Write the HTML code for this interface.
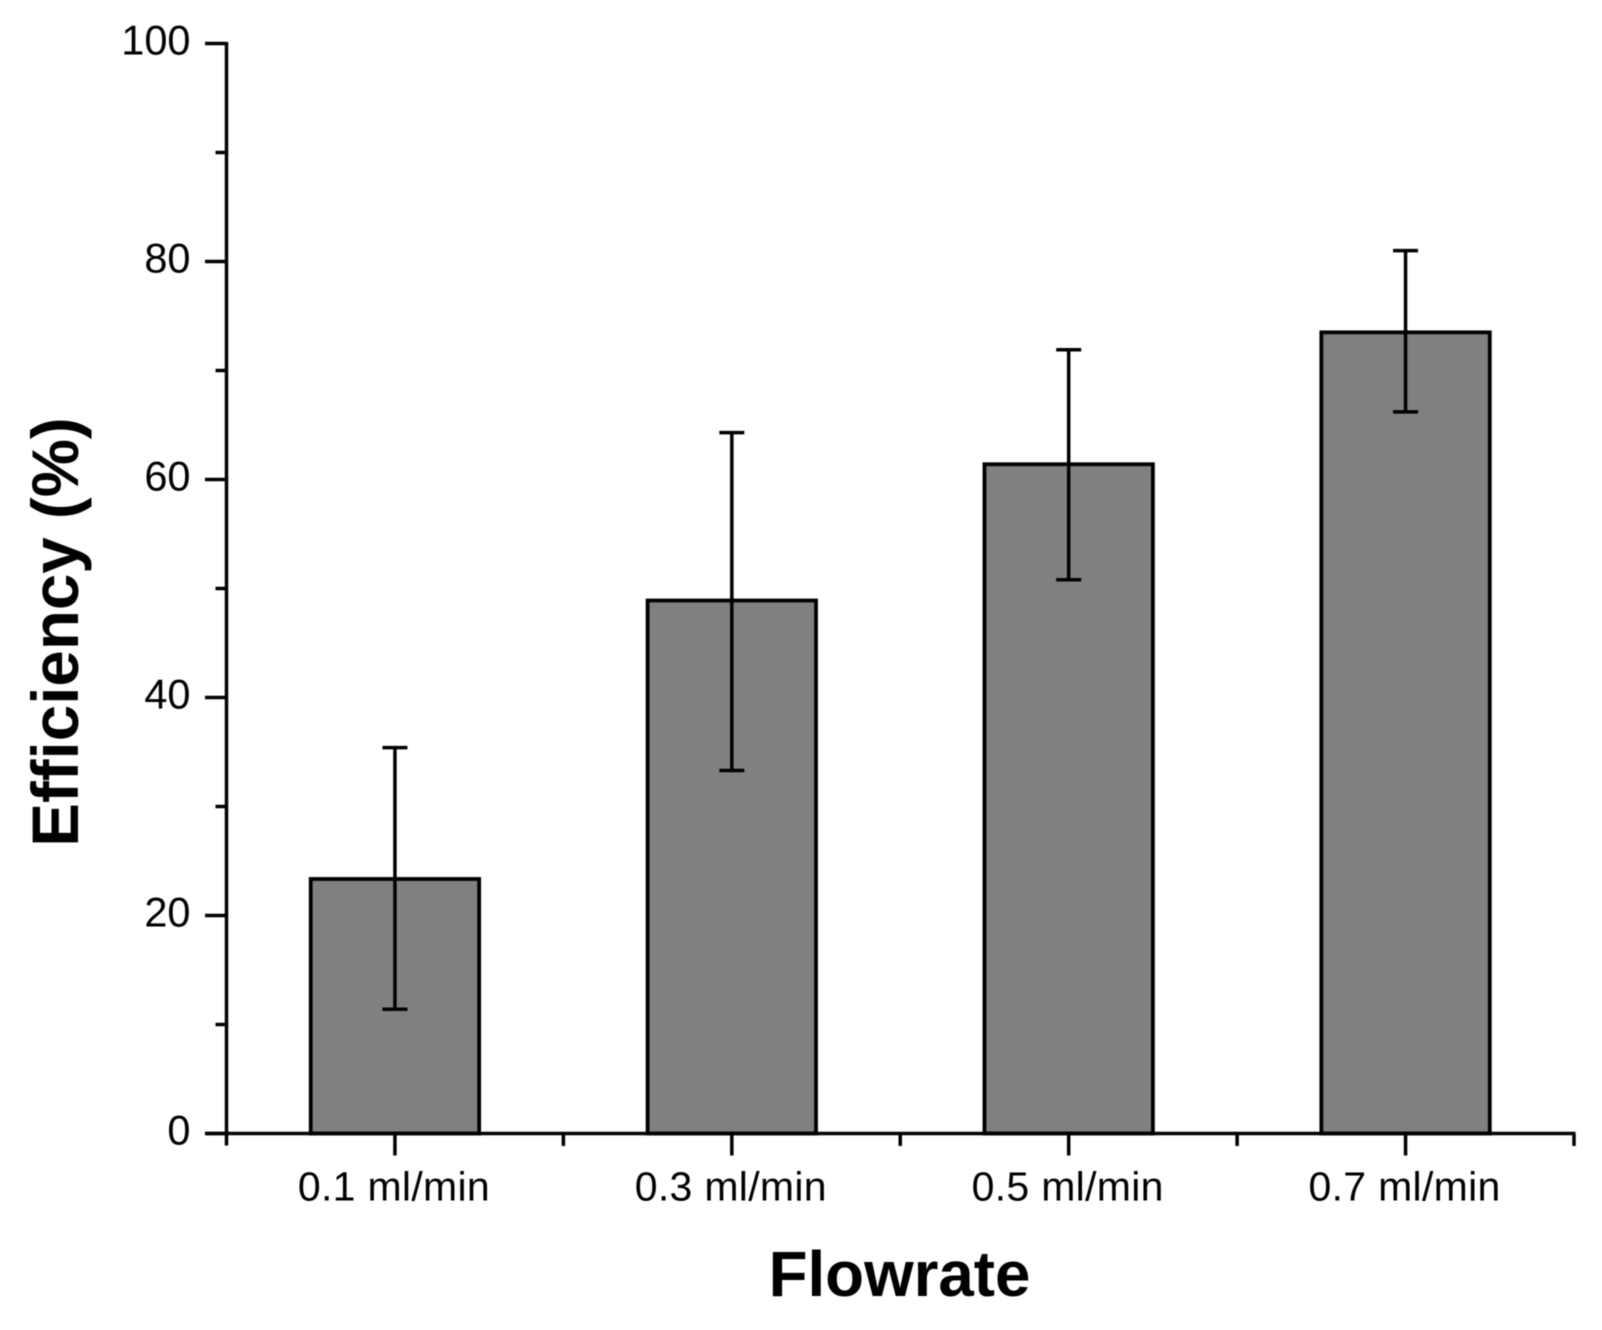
<!DOCTYPE html>
<html lang="en">
<head>
<meta charset="utf-8">
<title>Efficiency vs Flowrate</title>
<style>
html,body{margin:0;padding:0;background:#fff;}
body{width:1602px;height:1330px;overflow:hidden;}
svg{display:block;font-family:"Liberation Sans",Arial,sans-serif;filter:blur(0.4px);}
</style>
</head>
<body>
<svg id="chart" xmlns="http://www.w3.org/2000/svg" width="1602" height="1330" viewBox="0 0 1602 1330"></svg>
<script>
// Chart data
const categories = ['0.1 ml/min', '0.3 ml/min', '0.5 ml/min', '0.7 ml/min'];
const efficiency = [23.35, 48.9, 61.4, 73.5];
const errorUpper = [35.4, 64.3, 71.9, 81.0];
const errorLower = [11.4, 33.3, 50.8, 66.2];
const yMajorTicks = [0, 20, 40, 60, 80, 100];
const yMinorTicks = [10, 30, 50, 70, 90];

const NS = 'http://www.w3.org/2000/svg';
const svg = document.getElementById('chart');
const plot = { left: 226.5, right: 1574, top: 43.5, bottom: 1133.5 };
const yMin = 0, yMax = 100;
const lineWidth = 3.5;

function yScale(v) {
  return plot.bottom - (v - yMin) / (yMax - yMin) * (plot.bottom - plot.top);
}
function bandWidth() {
  return (plot.right - plot.left) / categories.length;
}
function xScale(i) {
  return plot.left + bandWidth() * (i + 0.5);
}
function make(tag, attrs) {
  const el = document.createElementNS(NS, tag);
  for (const k in attrs) el.setAttribute(k, attrs[k]);
  return el;
}
function line(x1, y1, x2, y2, w) {
  return make('line', { x1: x1, y1: y1, x2: x2, y2: y2, stroke: '#000', 'stroke-width': w });
}

// Bars
categories.forEach(function (c, i) {
  const w = bandWidth() / 2;
  const y = yScale(efficiency[i]);
  const bar = make('rect', { x: xScale(i) - w / 2, y: y, width: w, height: plot.bottom - y, fill: '#808080', stroke: '#000', 'stroke-width': 3.8 });
  
  
  svg.appendChild(bar);
});

// Error bars
categories.forEach(function (c, i) {
  const x = xScale(i);
  const g = make('g', {});
  
  
  g.appendChild(line(x, yScale(errorUpper[i]), x, yScale(errorLower[i]), lineWidth));
  g.appendChild(line(x - 12.5, yScale(errorUpper[i]), x + 12.5, yScale(errorUpper[i]), lineWidth));
  g.appendChild(line(x - 12.5, yScale(errorLower[i]), x + 12.5, yScale(errorLower[i]), lineWidth));
  svg.appendChild(g);
});

// Y axis
const yAxis = make('g', {});


yAxis.appendChild(line(plot.left, plot.top - 1.5, plot.left, plot.bottom + 12, lineWidth));
yMajorTicks.forEach(function (t) {
  const y = yScale(t);
  const tick = line(205, y, plot.left, y, lineWidth);
  
  
  yAxis.appendChild(tick);
  const label = make('text', { x: 190.5, y: y + 11, 'text-anchor': 'end', 'font-size': 41.5, fill: '#000' });
  
  
  label.textContent = String(t);
  yAxis.appendChild(label);
});
yMinorTicks.forEach(function (t) {
  const y = yScale(t);
  const tick = line(215.5, y, plot.left, y, lineWidth);
  
  
  yAxis.appendChild(tick);
});
svg.appendChild(yAxis);

// X axis
const xAxis = make('g', {});


xAxis.appendChild(line(205, plot.bottom, plot.right + 1.5, plot.bottom, lineWidth));
categories.forEach(function (c, i) {
  const x = xScale(i);
  const tick = line(x, plot.bottom, x, plot.bottom + 22, lineWidth);
  
  
  xAxis.appendChild(tick);
  const label = make('text', { x: x - 1, y: 1200.5, 'text-anchor': 'middle', 'font-size': 41, 'letter-spacing': 0.3, fill: '#000' });
  
  
  label.textContent = c;
  xAxis.appendChild(label);
});
for (let i = 1; i <= categories.length; i++) {
  const x = plot.left + bandWidth() * i;
  const tick = line(x, plot.bottom, x, plot.bottom + 12.5, lineWidth);
  
  
  xAxis.appendChild(tick);
}
svg.appendChild(xAxis);

// Axis titles
const xTitle = make('text', { x: 899.5, y: 1296, 'text-anchor': 'middle', 'font-size': 63.7, 'font-weight': 'bold', fill: '#000' });


xTitle.textContent = 'Flowrate';
svg.appendChild(xTitle);

const yTitle = make('text', { transform: 'translate(78 632) rotate(-90)', 'text-anchor': 'middle', 'font-size': 65.5, 'font-weight': 'bold', fill: '#000' });


yTitle.textContent = 'Efficiency (%)';
svg.appendChild(yTitle);
</script>
</body>
</html>
